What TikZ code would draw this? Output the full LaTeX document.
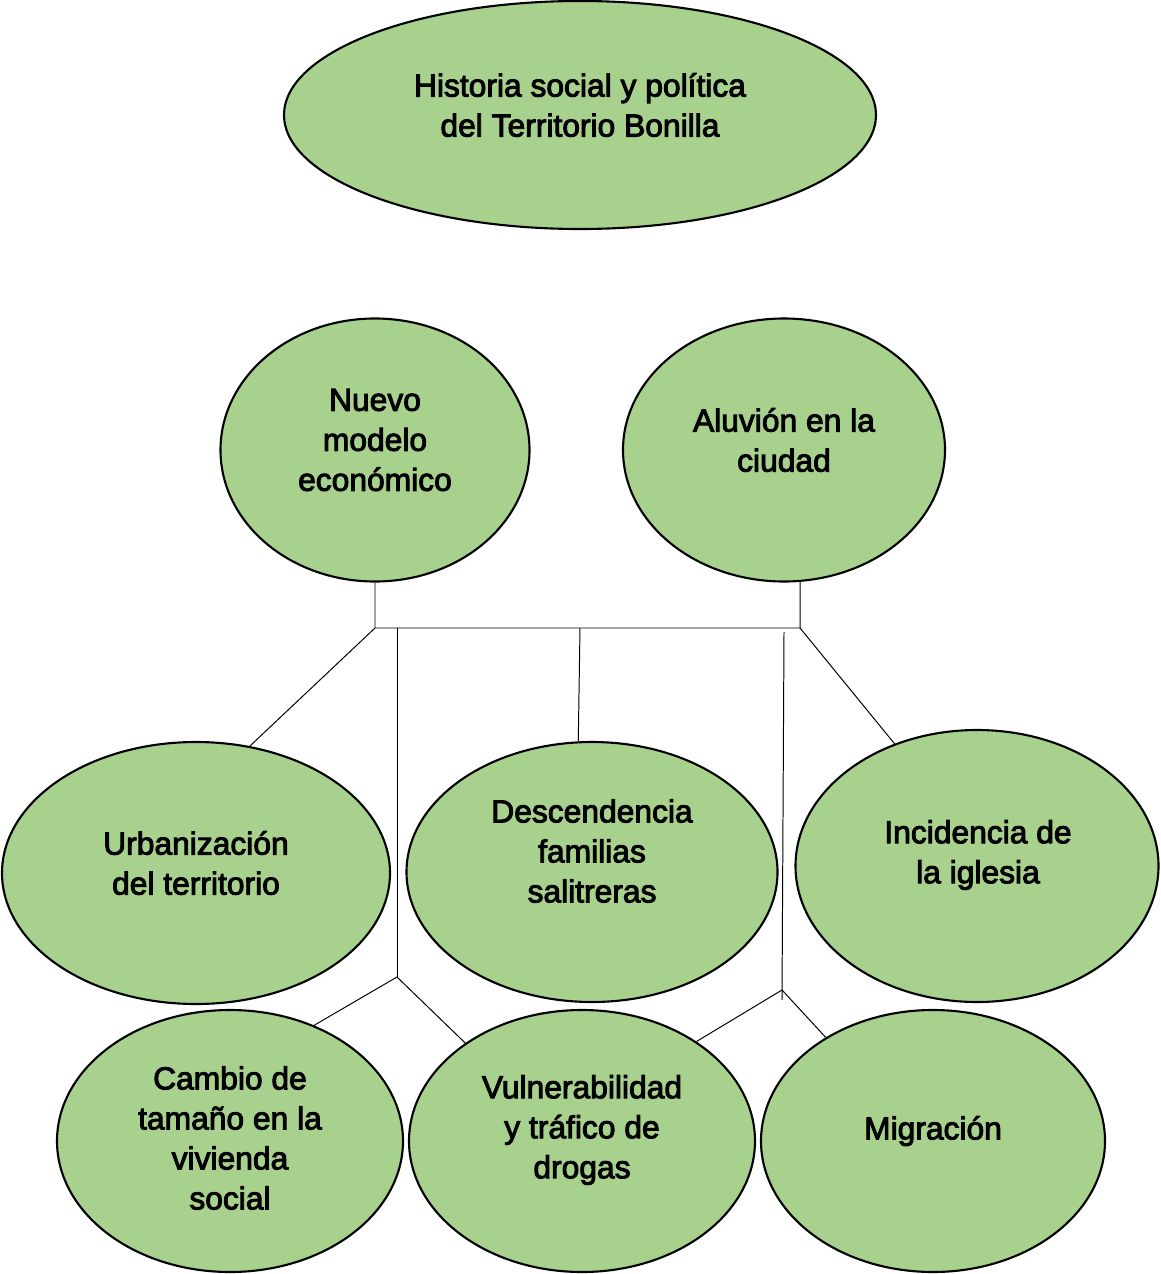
\documentclass[tikz,border=0pt]{standalone}
\usepackage{fontspec}
\usepackage{tikz}
\usetikzlibrary{shapes.geometric}
\newfontfamily\lblfont[FakeBold=3]{Liberation Sans}
\definecolor{leafgreen}{RGB}{169,209,142}
\tikzset{
    ell/.style 2 args={ellipse, draw=black, line width=1.5pt, fill=leafgreen, inner sep=0pt, minimum width=#1*0.025cm, minimum height=#2*0.025cm},
    lbl/.style={align=center, text=black, font={\lblfont\fontsize{22.6}{28.45}\selectfont}},
    conn/.style={line width=0.7pt, black}
}

\begin{document}
\begin{tikzpicture}[x=0.025cm, y=-0.025cm]
        \useasboundingbox (0,0) rectangle (1160,1274);

        % ellipses
        \node[ell={592}{228}] (hist) at (580,115) {};
        \node[ell={309}{263}] (nuevo) at (375,450) {};
        \node[ell={322}{263}] (aluvion) at (784,450) {};
        \node[ell={388}{262}] (urb) at (196,873) {};
        \node[ell={371}{260}] (desc) at (592,872) {};
        \node[ell={363}{272}] (incid) at (977,866) {};
        \node[ell={346}{262}] (cambio) at (230,1141) {};
        \node[ell={346}{262}] (vuln) at (582,1141) {};
        \node[ell={344}{262}] (migr) at (933,1141) {};

        % texts
        \node[lbl] (histtxt) at (580,105) {Historia social y política\\del Territorio Bonilla};
        \node[lbl] (nuevotxt) at (375,440) {Nuevo\\modelo\\económico};
        \node[lbl] (aluviontxt) at (784,440) {Aluvión en la\\ciudad};
        \node[lbl] (urbtxt) at (196,863) {Urbanización\\del territorio};
        \node[lbl] (desctxt) at (592,851) {Descendencia\\familias\\salitreras};
        \node[lbl] (incidtxt) at (978,855) {Incidencia de\\la iglesia};
        \node[lbl] (cambiotxt) at (230,1138) {Cambio de\\tamaño en la\\vivienda\\social};
        \node[lbl] (vulntxt) at (582,1130) {Vulnerabilidad\\y tráfico de\\drogas};
        \node[lbl] (migrtxt) at (933,1131) {Migración};

        % connectors
        \coordinate (barl) at (375,628);
        \coordinate (barr) at (800,628);
        \coordinate (barm) at (580,628);
        \coordinate (barlv) at (397,628);
        \coordinate (barrv) at (784,632);
        \coordinate (jl) at (397,977);
        \coordinate (jr) at (782,990);
        \coordinate (jrend) at (782,1000);

        \draw[conn] (nuevo.south) -- (barl) -- (barr) -- (aluvion.-83.5);
        \draw[conn] (barl) -- (urb.67);
        \draw[conn] (barr) -- (incid.124);
        \draw[conn] (barm) -- (desc.96.5);
        \draw[conn] (barlv) -- (jl);
        \draw[conn] (cambio.54) -- (jl) -- (vuln.140);
        \draw[conn] (barrv) -- (jrend);
        \draw[conn] (vuln.41) -- (jr) -- (migr.136);
\end{tikzpicture}
\end{document}
